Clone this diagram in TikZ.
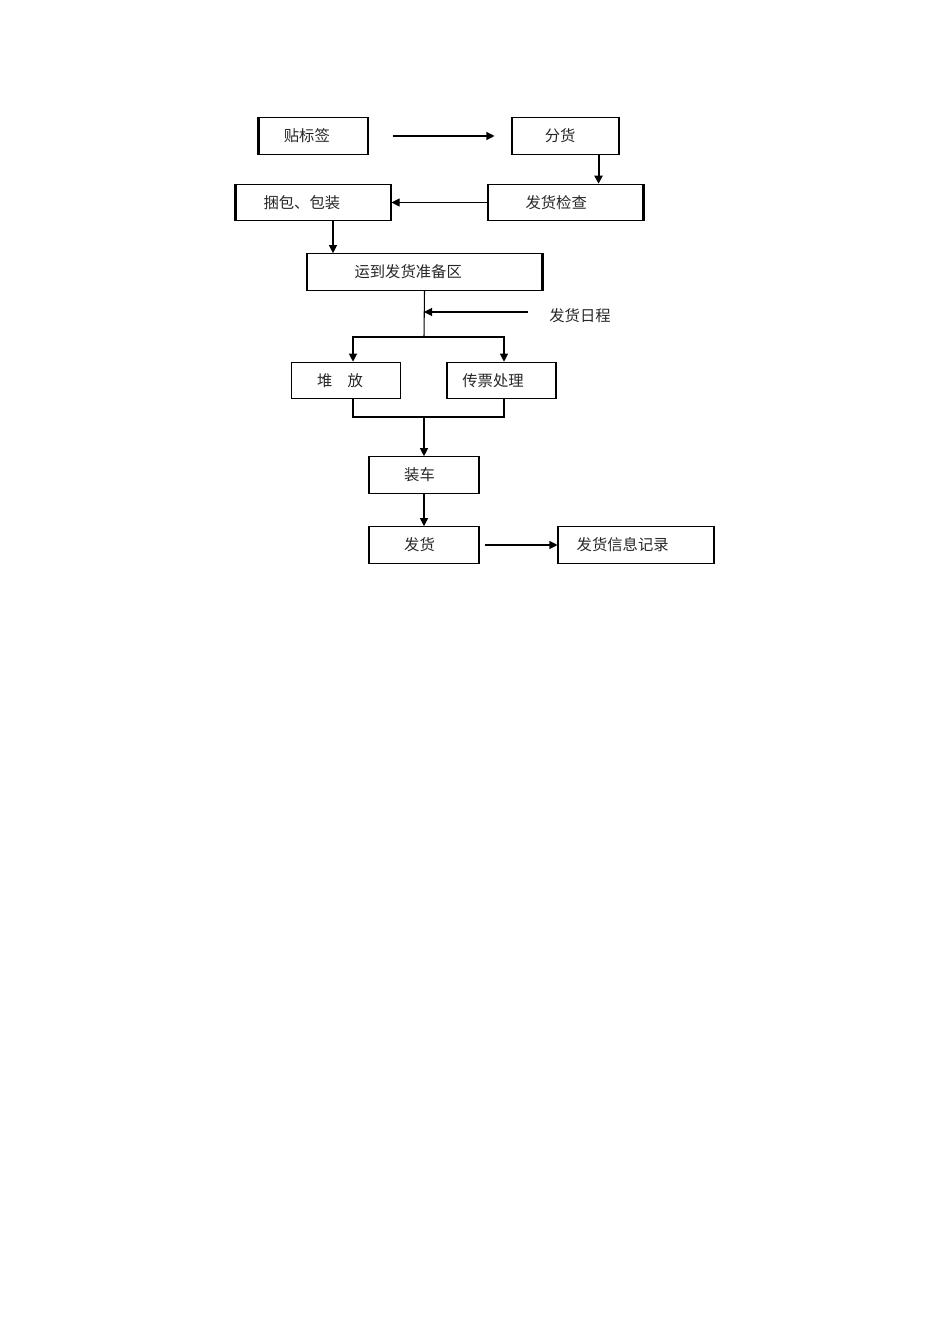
\documentclass[tikz,border=0pt]{standalone}
\usepackage{fontspec}
\newfontfamily\cjk{Noto Sans CJK SC}
\usetikzlibrary{arrows.meta,calc}
\begin{document}
\begin{tikzpicture}[x=0.75pt,y=-0.75pt,
    box/.style={draw, line width=0.8pt, inner sep=0pt, minimum height=27.4pt,
      font=\cjk\fontsize{11.5}{13}\selectfont, text=black!85},
    pad/.style={execute at end node={\hspace*{#1}}},
    arr/.style={-{Triangle[length=6pt,width=6pt]}, line width=0.8pt},
    ln/.style={line width=0.8pt}]
  \useasboundingbox (0,0) rectangle (950,1344);

  \node[box, pad=10pt, minimum width=81.75pt] (tiao) at (313.5,136) {贴标签};
  \node[box, pad=8pt, minimum width=80.25pt] (fen) at (565.5,136) {分货};
  \node[box, pad=14pt, minimum width=116.25pt] (jiancha) at (565.5,202.5) {发货检查};
  \node[box, pad=17.5pt, minimum width=116.25pt] (kunbao) at (313.5,202.5) {捆包、包装};
  \node[box, pad=24.5pt, minimum width=176.25pt] (yundao) at (424.5,272) {运到发货准备区};
  \node[box, pad=9pt, minimum width=81.75pt] (duifang) at (346,380.5) {堆\hspace{1em}放};
  \node[box, pad=12.75pt, minimum width=81.75pt] (chuanpiao) at (501.5,380.5) {传票处理};
  \node[box, pad=6.75pt, minimum width=82.5pt] (zhuangche) at (424,475) {装车};
  \node[box, pad=6.75pt, minimum width=82.5pt] (fahuo) at (424,545) {发货};
  \node[box, pad=20pt, minimum width=117pt] (xinxi) at (636,545) {发货信息记录};
  \node[font=\cjk\fontsize{11.5}{13}\selectfont, text=black!85] (richeng) at (580,316) {发货日程};

  % thicker sides
  \draw[line width=1.5pt] (tiao.north west) -- (tiao.south west);
  \draw[line width=1.5pt] (kunbao.north west) -- (kunbao.south west);
  \draw[line width=1.5pt] (jiancha.north east) -- (jiancha.south east);
  \draw[line width=1.5pt] (yundao.north east) -- (yundao.south east);

  \coordinate (fen1) at ($(fen.south east)+(-21,0)$);
  \coordinate (kb1) at ($(kunbao.south)+(19.5,0)$);
  \coordinate (fenzhi) at (424,337);
  \coordinate (rc1) at (528,312);
  \coordinate (hebing) at (424,417);
  \coordinate (df1) at ($(duifang.north)+(7,0)$);
  \coordinate (cp1) at ($(chuanpiao.north)+(2.5,0)$);
  \coordinate (df2) at ($(duifang.south)+(7,0)$);
  \coordinate (cp2) at ($(chuanpiao.south)+(2.5,0)$);

  \draw[arr, shorten <=18pt, shorten >=12.75pt] (tiao.east) -- (fen.west);
  \draw[arr, line width=1.5pt] (fen1) -- (fen1 |- jiancha.north);
  \draw[arr] (jiancha.west) -- (kunbao.east);
  \draw[arr] (kb1) -- (kb1 |- yundao.north);
  \draw[ln] (yundao.south) -- (fenzhi);
  \draw[arr] (rc1) -- (rc1 -| fenzhi);
  \draw[arr] (fenzhi) -| (df1);
  \draw[arr] (fenzhi) -| (cp1);
  \draw[ln] (df2) |- (hebing);
  \draw[ln] (cp2) |- (hebing);
  \draw[arr] (hebing) -- (zhuangche.north);
  \draw[arr] (zhuangche) -- (fahuo);
  \draw[arr, shorten <=3.75pt] (fahuo.east) -- (xinxi.west);
\end{tikzpicture}
\end{document}
